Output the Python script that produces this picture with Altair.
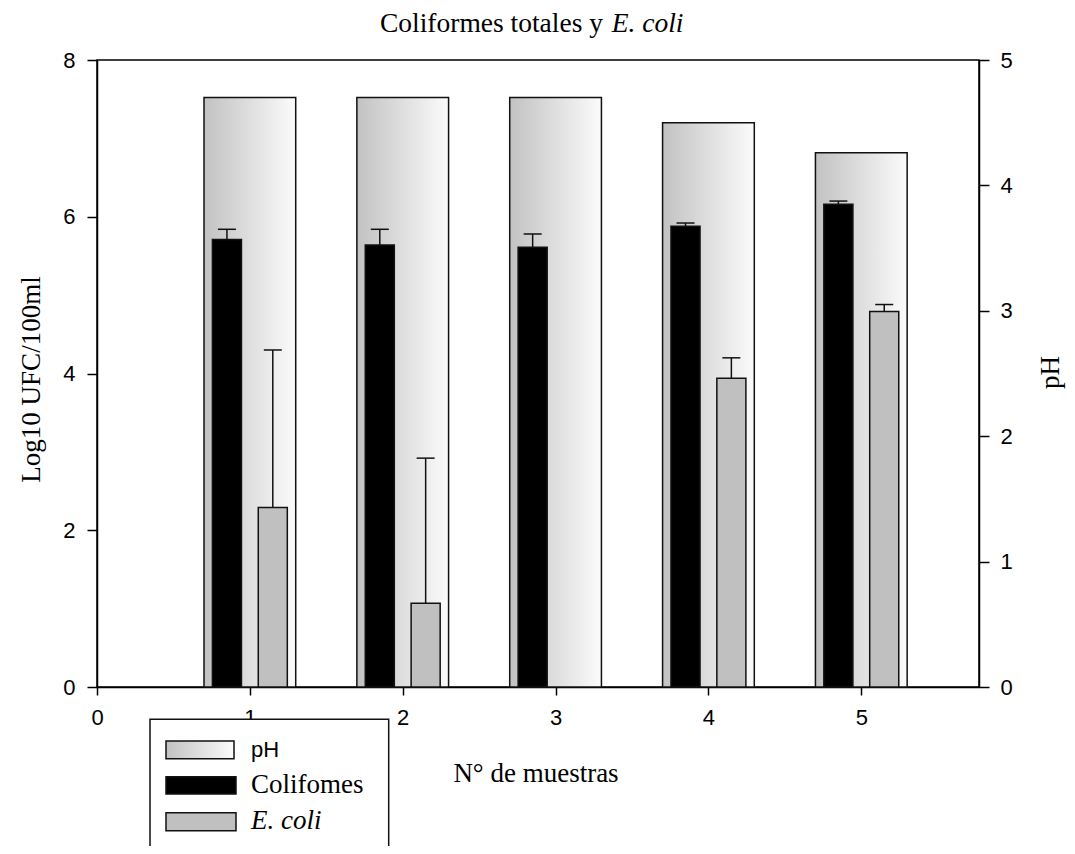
import altair as alt
import pandas as pd

# ---- data ----
muestras = [1, 2, 3, 4, 5]
ph = [4.70, 4.70, 4.70, 4.50, 4.26]
coliformes = [5.71, 5.64, 5.61, 5.88, 6.16]
coliformes_err = [0.13, 0.20, 0.17, 0.04, 0.04]
ecoli = [2.29, 1.07, 0.0, 3.94, 4.79]
ecoli_err = [2.01, 1.85, 0.0, 0.26, 0.09]
x_ticks = [0, 1, 2, 3, 4, 5]
y_ticks = [0, 2, 4, 6, 8]
ph_ticks = [0, 1, 2, 3, 4, 5]

df = pd.DataFrame({
    "n": muestras,
    "ph": ph,
    "colif": coliformes,
    "colif_err": coliformes_err,
    "ecoli": ecoli,
    "ecoli_err": ecoli_err,
})

SERIF = "Liberation Serif"
SANS = "Liberation Sans"

W, H = 882, 627

grad = alt.LinearGradient(
    gradient="linear",
    stops=[alt.GradientStop(color="#c2c2c2", offset=0),
           alt.GradientStop(color="#fbfbfb", offset=1)],
    x1=0, x2=1, y1=0, y2=0,
)

xscale = alt.Scale(domain=[0, 5.77], nice=False, zero=False)
xaxis = alt.Axis(
    values=x_ticks, format="d", title="N° de muestras", grid=False,
    tickSize=8, tickWidth=1.5, tickColor="black", domainColor="black", domainWidth=1.5,
    labelPadding=12, labelFont=SANS, labelFontSize=22, labelColor="black",
    titleFont=SERIF, titleFontSize=27, titleFontWeight="normal", titleColor="black",
    titleX=438.5, titleY=94.7, titleBaseline="alphabetic", titleAlign="center",
    labelFlush=False, labelOverlap=False,
)

yscale = alt.Scale(domain=[0, 8], nice=False, zero=True)
yaxis = alt.Axis(
    orient="left", values=y_ticks, format="d", title="Log10 UFC/100ml", grid=False,
    tickSize=10, tickWidth=1.5, tickColor="black", domainColor="black", domainWidth=1.5,
    labelPadding=12, labelFont=SANS, labelFontSize=22, labelColor="black",
    titleFont=SERIF, titleFontSize=27, titleFontWeight="normal", titleColor="black",
    titleAngle=270, titleX=-66, titleY=319, titleBaseline="middle", titleAlign="center",
    labelFlush=False,
)

phscale = alt.Scale(domain=[0, 5], nice=False, zero=True)
phaxis = alt.Axis(
    orient="right", values=ph_ticks, format="d", title="pH", grid=False,
    tickSize=10, tickWidth=1.5, tickColor="black", domainColor="black", domainWidth=1.5,
    labelPadding=11, labelFont=SANS, labelFontSize=22, labelColor="black",
    titleFont=SERIF, titleFontSize=27, titleFontWeight="normal", titleColor="black",
    titleAngle=270, titleX=71, titleY=312, titleBaseline="middle", titleAlign="center",
    labelFlush=False,
)

base = alt.Chart(df).transform_calculate(
    zero="0",
    ph_x0="datum.n - 0.3", ph_x1="datum.n + 0.3",
    c_x0="datum.n - 0.245", c_x1="datum.n - 0.055", c_xm="datum.n - 0.15",
    e_x0="datum.n + 0.055", e_x1="datum.n + 0.245", e_xm="datum.n + 0.15",
    c_top="datum.colif + datum.colif_err", e_top="datum.ecoli + datum.ecoli_err",
)

ph_layer = base.mark_rect(fill=grad, stroke="#111", strokeWidth=1.5).encode(
    x=alt.X("ph_x0:Q", scale=xscale, axis=xaxis), x2="ph_x1:Q",
    y=alt.Y("ph:Q", scale=phscale, axis=phaxis), y2="zero:Q",
)

colif_bars = base.mark_rect(fill="black", stroke="#111", strokeWidth=1.5).encode(
    x=alt.X("c_x0:Q", scale=xscale, axis=xaxis), x2="c_x1:Q",
    y=alt.Y("colif:Q", scale=yscale, axis=yaxis), y2="zero:Q",
)
ecoli_bars = base.transform_filter("datum.ecoli > 0").mark_rect(
    fill="#c0c0c0", stroke="#111", strokeWidth=1.5).encode(
    x=alt.X("e_x0:Q", scale=xscale, axis=xaxis), x2="e_x1:Q",
    y=alt.Y("ecoli:Q", scale=yscale, axis=yaxis), y2="zero:Q",
)
colif_stem = base.mark_rule(color="#111", strokeWidth=1.5).encode(
    x=alt.X("c_xm:Q", scale=xscale, axis=xaxis),
    y=alt.Y("colif:Q", scale=yscale, axis=yaxis), y2="c_top:Q",
)
colif_cap = base.mark_tick(orient="horizontal", size=18, thickness=1.5, color="#111", opacity=1).encode(
    x=alt.X("c_xm:Q", scale=xscale, axis=xaxis),
    y=alt.Y("c_top:Q", scale=yscale, axis=yaxis),
)
ecoli_stem = base.transform_filter("datum.ecoli_err > 0").mark_rule(color="#111", strokeWidth=1.5).encode(
    x=alt.X("e_xm:Q", scale=xscale, axis=xaxis),
    y=alt.Y("ecoli:Q", scale=yscale, axis=yaxis), y2="e_top:Q",
)
ecoli_cap = base.transform_filter("datum.ecoli_err > 0").mark_tick(
    orient="horizontal", size=18, thickness=1.5, color="#111", opacity=1).encode(
    x=alt.X("e_xm:Q", scale=xscale, axis=xaxis),
    y=alt.Y("e_top:Q", scale=yscale, axis=yaxis),
)

one = alt.Data(values=[{}])

title_a = alt.Chart(one).mark_text(
    text="Coliformes totales y", font=SERIF, fontSize=27.5, align="right",
    baseline="alphabetic", color="black").encode(x=alt.value(506), y=alt.value(-28.3))
title_b = alt.Chart(one).mark_text(
    text="E. coli", font=SERIF, fontSize=27.5, fontStyle="italic", align="left",
    baseline="alphabetic", color="black").encode(x=alt.value(514.7), y=alt.value(-28.3))

legend_box = alt.Chart(one).mark_rect(fill="white", stroke="#111", strokeWidth=1.5).encode(
    x=alt.value(53), x2=alt.value(291.7), y=alt.value(659.3), y2=alt.value(820))
sw_ph = alt.Chart(one).mark_rect(fill=grad, stroke="#111", strokeWidth=1.5).encode(
    x=alt.value(69), x2=alt.value(137), y=alt.value(681), y2=alt.value(698.7))
sw_c = alt.Chart(one).mark_rect(fill="black", stroke="#111", strokeWidth=1.5).encode(
    x=alt.value(69), x2=alt.value(139), y=alt.value(716.7), y2=alt.value(734))
sw_e = alt.Chart(one).mark_rect(fill="#c0c0c0", stroke="#111", strokeWidth=1.5).encode(
    x=alt.value(69), x2=alt.value(139), y=alt.value(752.7), y2=alt.value(770.7))
lt_ph = alt.Chart(one).mark_text(text="pH", font=SANS, fontSize=22, align="left",
    baseline="alphabetic", color="black").encode(x=alt.value(154), y=alt.value(697.3))
lt_c = alt.Chart(one).mark_text(text="Colifomes", font=SERIF, fontSize=27, align="left",
    baseline="alphabetic", color="black").encode(x=alt.value(154), y=alt.value(733.3))
lt_e = alt.Chart(one).mark_text(text="E. coli", font=SERIF, fontSize=27, fontStyle="italic",
    align="left", baseline="alphabetic", color="black").encode(x=alt.value(154), y=alt.value(769.3))

main = alt.layer(
    colif_bars, ecoli_bars, colif_stem, colif_cap, ecoli_stem, ecoli_cap,
    title_a, title_b, legend_box, sw_ph, sw_c, sw_e, lt_ph, lt_c, lt_e,
)

chart = alt.layer(ph_layer, main).resolve_scale(y="independent").properties(
    width=W, height=H,
    autosize=alt.AutoSizeParams(type="none"),
    padding={"left": 89, "top": 52, "right": 88, "bottom": 159},
    background="white",
).configure_view(stroke="black", strokeWidth=1.5)

chart.save("out.html", embed_options={"renderer": "svg", "actions": False})
